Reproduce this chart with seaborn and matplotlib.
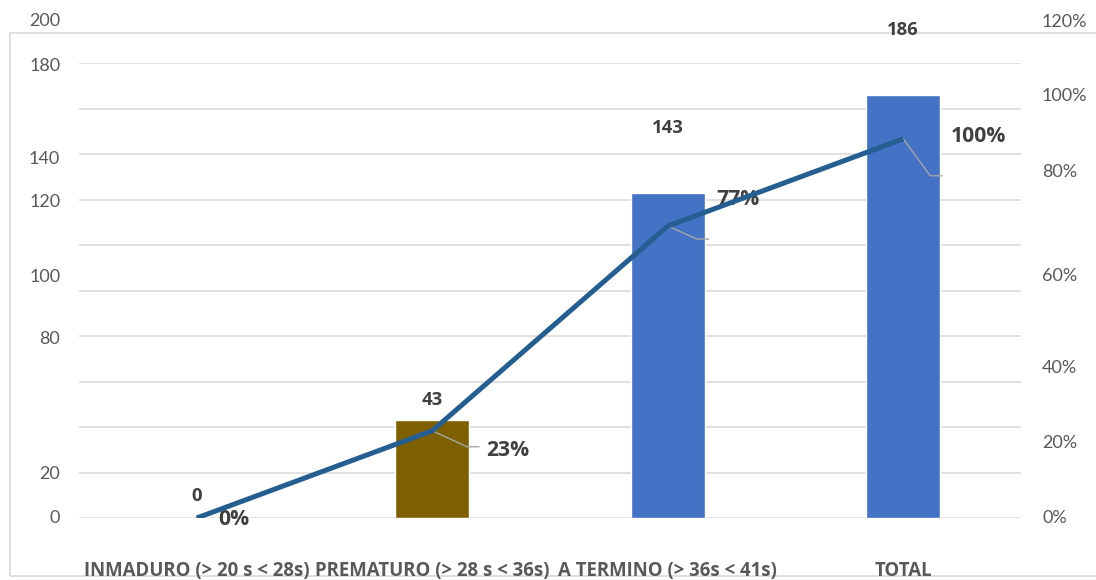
import os
import numpy as np
import matplotlib
matplotlib.use("Agg")
import matplotlib.pyplot as plt
import matplotlib.transforms as mtransforms
from matplotlib import font_manager as fm
from matplotlib.patches import Rectangle
import seaborn as sns

# Data
categories = ["INMADURO (> 20 s < 28s)", "PREMATURO (> 28 s < 36s)",
              "A TERMINO (> 36s < 41s)", "TOTAL"]
counts = [0, 43, 143, 186]
percent = [0.0, 0.23, 0.77, 1.00]
percent_labels = ["0%", "23%", "77%", "100%"]
bar_colors = ["#4472C4", "#7F6000", "#4472C4", "#4472C4"]

# Axis label texts (left: counts, right: percentages) and where they sit
left_tick_labels = ["0", "20", "80", "100", "120", "140", "180", "200"]
left_tick_pos = [0, 19.3, 78.7, 106.0, 138.9, 157.8, 198.7, 218.5]
right_tick_labels = ["0%", "20%", "40%", "60%", "80%", "100%", "120%"]
right_tick_pos = [0.0, 0.198, 0.396, 0.639, 0.913, 1.113, 1.309]

# Label offsets (points)
count_label_offsets = [15.8, 14.4, 46.8, 46.8]
pct_label_offsets = [(26.6, -1.4), (54.7, -14.4), (50.4, 19.4), (54.0, 1.4)]
# Leader lines: end of the horizontal tail (points) and slope angle near the marker
leaders = {1: ((33.8, -11.5), -24.6), 2: ((29.5, -9.4), -24.1), 3: ((28.1, -26.6), -53.9)}


def pick_family(candidates):
    """First family that ships a real bold face."""
    for fam in candidates:
        try:
            path = fm.findfont(fm.FontProperties(family=fam, weight="bold"),
                               fallback_to_default=False)
        except Exception:
            continue
        name = os.path.basename(path).lower()
        if ("bold" in name and "semi" not in name) or "bd" in name:
            return fam
    return "DejaVu Sans"


BOLD_FAMILY = pick_family(["Open Sans", "Noto Sans", "Liberation Sans"])

sns.set_theme(style="white")
plt.rcParams["font.family"] = ["Lato", "DejaVu Sans"]

TEXT_DARK = "#404040"
TEXT_GREY = "#595959"
GRID = "#D9D9D9"

fig = plt.figure(figsize=(10.96, 5.80), dpi=100)

# Chart frame, behind everything
fig.add_artist(Rectangle((10 / 1096, 4 / 580), 1.02, 543 / 580,
                         transform=fig.transFigure, fill=False,
                         edgecolor=GRID, lw=1.2, zorder=-5))

ax = fig.add_axes([79 / 1096, 62 / 580, 942 / 1096, 455 / 580])
ax.patch.set_alpha(0)

sns.barplot(x=categories, y=counts, hue=categories, palette=bar_colors,
            legend=False, width=0.315, saturation=1, ax=ax, zorder=2)
ax.set_ylim(0, 200)
ax.set_xlim(-0.5, 3.5)
ax.set_yticks(np.arange(0, 201, 20))
ax.set_yticklabels([])
ax.grid(axis="y", color=GRID, lw=1.1, zorder=0)
ax.grid(axis="x", visible=False)
ax.set_axisbelow(True)
for s in ax.spines.values():
    s.set_visible(False)
ax.tick_params(axis="both", length=0)
ax.tick_params(axis="x", pad=31)
for lbl in ax.get_xticklabels():
    lbl.set_family(BOLD_FAMILY)
    lbl.set_fontweight("bold")
    lbl.set_fontsize(13.4)
    lbl.set_color(TEXT_GREY)
ax.set_xlabel("")
ax.set_ylabel("")

# Count labels above bars
for i, v in enumerate(counts):
    ax.annotate(str(v), xy=(i, v), xytext=(0, count_label_offsets[i]),
                textcoords="offset points", ha="center", va="center",
                family=BOLD_FAMILY, fontsize=13.3, fontweight="bold",
                color=TEXT_DARK, annotation_clip=False)

# Left axis labels
lt = mtransforms.blended_transform_factory(ax.transAxes, ax.transData)
for lab, pos in zip(left_tick_labels, left_tick_pos):
    ax.text(-0.020, pos, lab, transform=lt, ha="right", va="center",
            fontsize=13, color=TEXT_GREY, clip_on=False)

# Percentage line on the secondary axis
ax2 = ax.twinx()
ax2.patch.set_alpha(0)
sns.lineplot(x=np.arange(len(percent)), y=percent, color="#255E91",
             lw=3.6, ax=ax2, zorder=4, solid_capstyle="butt")
ax2.set_ylim(0, 1.2)
ax2.set_xlim(-0.5, 3.5)
ax2.set_yticks([])
ax2.grid(False)
for s in ax2.spines.values():
    s.set_visible(False)
ax2.set_ylabel("")

rt = mtransforms.blended_transform_factory(ax2.transAxes, ax2.transData)
for lab, pos in zip(right_tick_labels, right_tick_pos):
    ax2.text(1.0223, pos, lab, transform=rt, ha="left", va="center",
             fontsize=13, color=TEXT_GREY, clip_on=False)

# Leader lines from the line markers to their labels
for i, (tail, ang) in leaders.items():
    ax2.annotate("", xy=(i, percent[i]), xytext=tail, textcoords="offset points",
                 arrowprops=dict(arrowstyle="-", color="#A6A6A6", lw=1.0,
                                 shrinkA=0, shrinkB=0,
                                 connectionstyle=f"angle,angleA=0,angleB={ang},rad=0"),
                 zorder=2)

# Percentage labels
for i, p in enumerate(percent):
    dx, dy = pct_label_offsets[i]
    ax2.annotate(percent_labels[i], xy=(i, p), xytext=(dx, dy),
                 textcoords="offset points", ha="center", va="center",
                 family=BOLD_FAMILY, fontsize=15.2, fontweight="bold",
                 color=TEXT_DARK, zorder=2)

fig.savefig("out.png", dpi=100)
